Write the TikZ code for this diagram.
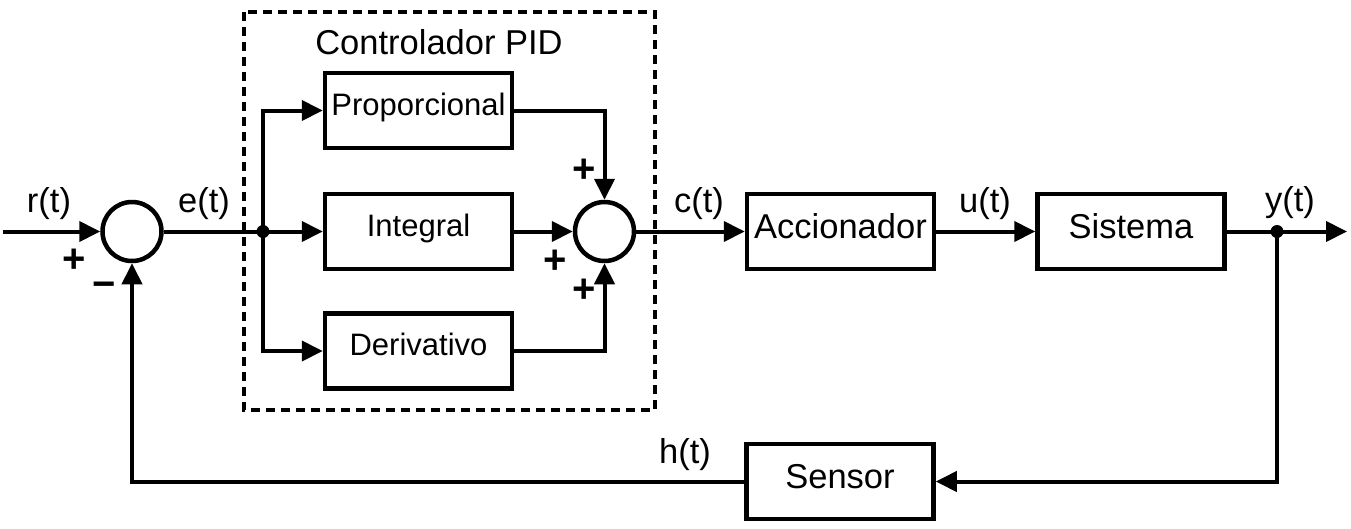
\documentclass[tikz,border=0pt]{standalone}
\usepackage{fontspec}
\setmainfont{Liberation Sans}
\usetikzlibrary{arrows.meta}
\begin{document}
\begin{tikzpicture}[x=1pt,y=-1pt, line width=4pt,
  blk/.style={draw, line width=4.5pt, minimum width=187pt, minimum height=75pt, inner sep=0pt,
    font=\fontsize{34.5}{40}\selectfont, text height=22pt, text depth=9pt},
  pidblk/.style={blk, font=\fontsize{31}{36}\selectfont, text height=19pt, text depth=10pt},
  sumc/.style={draw, circle, line width=4.5pt, minimum size=59pt, inner sep=0pt},
  lbl/.style={inner sep=0pt, font=\fontsize{34.5}{40}\selectfont},
  sgn/.style={inner sep=0pt, font=\fontsize{40}{44}\selectfont\bfseries},
  jdot/.style={circle, fill, inner sep=0pt, minimum size=13pt},
  arr/.style={-{Triangle[length=21pt,width=20pt]}},
  pidbox/.style={draw, line width=3.5pt, dash pattern=on 9pt off 6pt}
  ]
\useasboundingbox (0,0) rectangle (1351,528);
% PID dashed frame
\draw[pidbox] (244,12) rectangle (655,410);
\node[lbl] (pidlbl) at (439,42) {Controlador PID};
% nodes
\node[sumc] (s1) at (132,231.5) {};
\node[pidblk] (p) at (418.5,110.5) {Proporcional};
\node[pidblk] (i) at (418.5,231.5) {Integral};
\node[pidblk] (d) at (418.5,351) {Derivativo};
\node[sumc] (s2) at (604.5,231.5) {};
\node[blk] (a) at (840.5,231.5) {Accionador};
\node[blk] (s) at (1131,231.5) {Sistema};
\node[blk] (sen) at (840,481.5) {Sensor};
\node[jdot] (j1) at (263,231.5) {};
\node[jdot] (j2) at (1277,231.5) {};
\coordinate (in) at (3,231.5);
\coordinate (out) at (1347,231.5);
% connectors
\draw[arr] (in) -- (s1);
\draw (s1) -- (j1.center);
\draw[arr] (j1.center) |- (p.west);
\draw[arr] (j1.center) -- (i.west);
\draw[arr] (j1.center) |- (d.west);
\draw[arr] (p.east) -| (s2.north);
\draw[arr] (i.east) -- (s2.west);
\draw[arr] (d.east) -| (s2.south);
\draw[arr] (s2) -- (a);
\draw[arr] (a) -- (s);
\draw (s) -- (j2.center);
\draw[arr] (j2.center) -- (out);
\draw[arr] (j2.center) |- (sen.east);
\draw[arr] (sen.west) -| (s1.south);
% labels
\node[lbl] (lr) at (49,204) {r(t)};
\node[lbl] (le) at (204,204) {e(t)};
\node[lbl] (lc) at (699,204) {c(t)};
\node[lbl] (lu) at (985,204) {u(t)};
\node[lbl] (ly) at (1290,203) {y(t)};
\node[lbl] (lh) at (685,455) {h(t)};
% signs
\node[sgn] (sg1) at (74,261) {+};
\node[sgn] (sg2) at (104,290) {−};
\node[sgn] (sg3) at (584,171) {+};
\node[sgn] (sg4) at (555,262) {+};
\node[sgn] (sg5) at (584,291) {+};
\end{tikzpicture}
\end{document}
